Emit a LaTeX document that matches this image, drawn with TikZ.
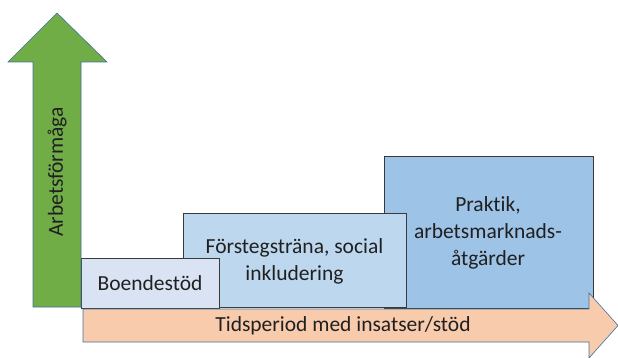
\documentclass[tikz,border=0pt]{standalone}
\usepackage{fontspec}
\setmainfont{Carlito}[Ligatures=NoCommon]
\definecolor{greenfill}{HTML}{70AD47}
\definecolor{orangefill}{HTML}{F8CBAD}
\definecolor{arrowline}{HTML}{41719C}
\definecolor{boxA}{HTML}{DAE3F3}
\definecolor{boxB}{HTML}{BDD7EE}
\definecolor{boxC}{HTML}{9DC3E6}
\definecolor{boxline}{HTML}{3A3A3A}
\definecolor{txt}{HTML}{202020}
\tikzset{
  stagebox/.style={draw=boxline, line width=0.9pt, rectangle, inner sep=0pt, anchor=north west, text=txt, align=center},
  bigarrow/.style={draw=arrowline, line width=0.6pt, line join=miter},
  lbl/.style={text=txt, font=\fontsize{21.5}{27}\selectfont, align=center, inner sep=0pt}
}
\begin{document}
\begin{tikzpicture}[x=1pt, y=-1pt]
\useasboundingbox (0,0) rectangle (618,358);
% stages
\node[stagebox, fill=boxC, minimum width=209pt, minimum height=152pt] (prak) at (384,156) {};
\node[stagebox, fill=boxB, minimum width=223pt, minimum height=94pt] (forst) at (183,213) {};
\node[stagebox, fill=boxA, minimum width=138pt, minimum height=50pt] (boende) at (81,258) {};
\node[lbl] (prakt) at (488,233) {Praktik,\\arbetsmarknads-\\åtgärder};
\node[lbl] (forstt) at (294.5,261) {Förstegsträna, social\\inkludering};
\node[lbl] (boendet) at (150,283) {Boendestöd};
% time arrow
\draw[bigarrow, fill=orangefill] (83,309) -- (589,309) -- (589,293) -- (618,325.5) -- (589,358) -- (589,342) -- (83,342) -- cycle;
\node[lbl] (tid) at (343,326) {Tidsperiod med insatser/stöd};
% ability arrow
\draw[bigarrow, fill=greenfill] (33,307) -- (33,62) -- (8,62) -- (57,13) -- (107,62) -- (81,62) -- (81,307) -- cycle;
\node[lbl, rotate=90] (arb) at (57,172) {Arbetsförmåga};
\end{tikzpicture}
\end{document}
